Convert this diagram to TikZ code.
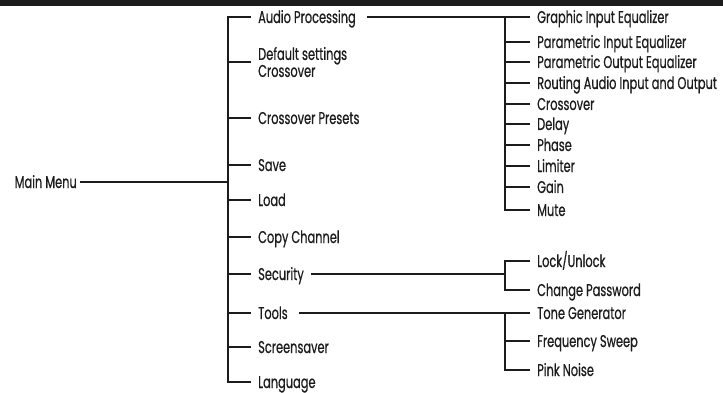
\documentclass[tikz,border=0pt]{standalone}
\usepackage{fontspec}
\setmainfont{Poppins}[FakeStretch=0.67,FakeBold=0.6]
\definecolor{ink}{HTML}{1C1C1C}
\begin{document}
\begin{tikzpicture}[x=1pt,y=-1pt,
  lbl/.style={anchor=west,inner ysep=0pt,inner xsep=7pt,text=ink,font=\fontsize{17}{17}\selectfont,text height=12pt,text depth=0pt},
  lbl2/.style={anchor=west,inner ysep=0pt,inner xsep=7pt,text=ink,font=\fontsize{17}{17}\selectfont,align=left},
  wire/.style={draw=ink,line width=2.2pt,line join=miter,line cap=butt}]
\useasboundingbox (0,0) rectangle (723,393);
\fill[ink] (0,0) rectangle (723,6.5);
% main
\node[lbl,inner xsep=3pt,anchor=east] (main) at (80,182) {Main Menu};
% level 1
\node[lbl] (ap) at (251,17) {Audio Processing};
\node[lbl2] (dsc) at (251,62) {Default settings\\Crossover};
\node[lbl] (cp) at (251,118) {Crossover Presets};
\node[lbl] (save) at (251,165) {Save};
\node[lbl] (load) at (251,200) {Load};
\node[lbl] (copy) at (251,237) {Copy Channel};
\node[lbl,inner xsep=7pt] (sec) at (251,274) {Security};
\node[lbl] (tools) at (251,313) {Tools};
\node[lbl] (scr) at (251,347) {Screensaver};
\node[lbl] (lang) at (251,382) {Language};
% level 2 audio
\node[lbl] (gie) at (530,17) {Graphic Input Equalizer};
\node[lbl] (pie) at (530,42) {Parametric Input Equalizer};
\node[lbl] (poe) at (530,62) {Parametric Output Equalizer};
\node[lbl] (raio) at (530,83) {Routing Audio Input and Output};
\node[lbl] (xo) at (530,104) {Crossover};
\node[lbl] (delay) at (530,124) {Delay};
\node[lbl] (phase) at (530,145) {Phase};
\node[lbl] (lim) at (530,166) {Limiter};
\node[lbl] (gain) at (530,187) {Gain};
\node[lbl] (mute) at (530,210) {Mute};
% security
\node[lbl] (lock) at (530,261) {Lock/Unlock};
\node[lbl] (pw) at (530,290) {Change Password};
% tools
\node[lbl] (tone) at (530,313) {Tone Generator};
\node[lbl] (fs) at (530,341) {Frequency Sweep};
\node[lbl] (pink) at (530,370) {Pink Noise};
% junctions
\coordinate (t1) at (228,182);
\coordinate (a2) at (505,17);
\coordinate (s2) at (505,274);
% connectors
\draw[wire] (main.east) -- (t1);
\draw[wire] (ap.west) -| (t1 |- lang.west) -- (lang.west);
\foreach \n in {dsc,cp,save,load,copy,sec,tools,scr}
  \draw[wire] (t1 |- \n.west) -- (\n.west);
\draw[wire] ([xshift=4pt]ap.east) -- (gie.west);
\draw[wire] (a2) |- (mute.west);
\foreach \n in {pie,poe,raio,xo,delay,phase,lim,gain}
  \draw[wire] (a2 |- \n.west) -- (\n.west);
\draw[wire] (sec.east) -- (s2);
\draw[wire] (lock.west) -| (s2) |- (pw.west);
\draw[wire] ([xshift=4pt]tools.east) -- (tone.west);
\draw[wire] (a2 |- tone.west) |- (pink.west);
\draw[wire] (a2 |- fs.west) -- (fs.west);
\end{tikzpicture}
\end{document}
